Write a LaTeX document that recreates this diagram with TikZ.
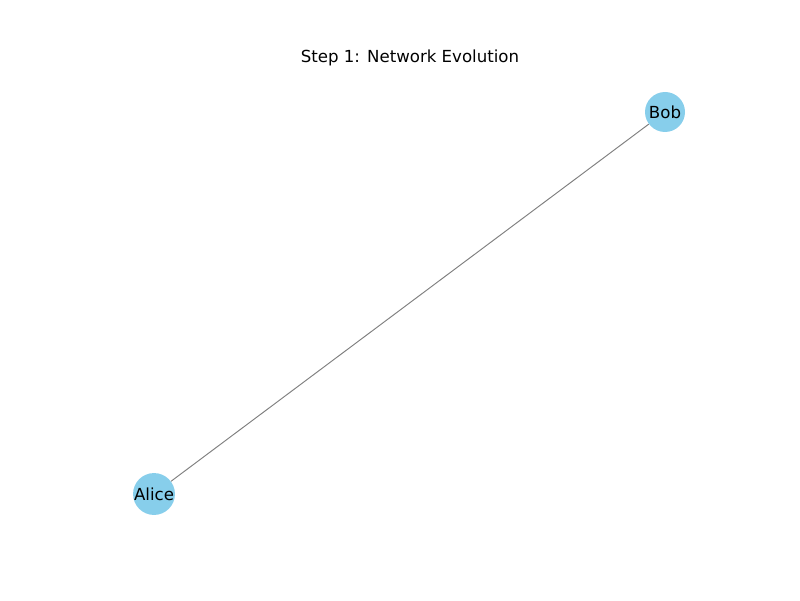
\documentclass[tikz,border=0pt]{standalone}
\usepackage{fontspec}
\setmainfont{DejaVu Sans}
\usepackage{xcolor}
\usepackage{tikz}
\usetikzlibrary{positioning}
\definecolor{skyblue}{HTML}{87CEEB}
\tikzset{
  person/.style={circle,fill=skyblue,minimum size=0.8cm,inner sep=0pt,font=\fontsize{9.45}{11}\selectfont},
  link/.style={draw=gray,line width=0.55pt}
}

\begin{document}
\begin{tikzpicture}
  \useasboundingbox (0,0) rectangle (16,12);
  % title
  \node[font=\fontsize{9.45}{11}\selectfont] (title) at (8.2,10.84) {Step 1: Network Evolution};
  % people
  \node[person] (bob) at (13.3,9.76) {Bob};
  \node[person] (alice) at (3.08,2.12) {Alice};
  \draw[link] (alice) -- (bob);
\end{tikzpicture}
\end{document}
